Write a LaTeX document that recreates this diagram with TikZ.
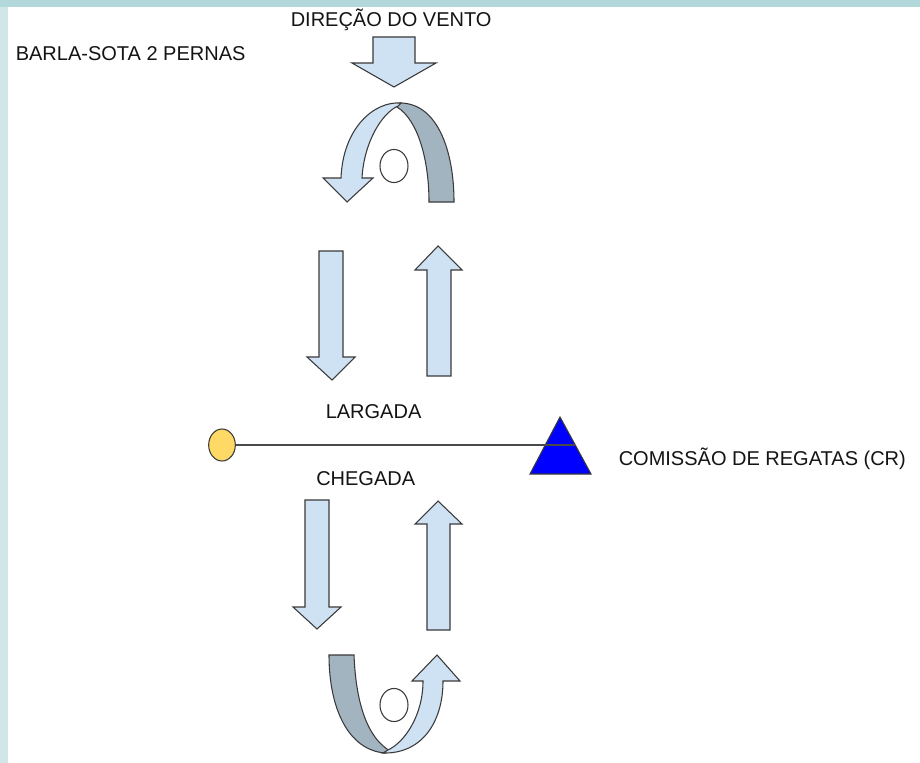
\documentclass[tikz,border=0pt]{standalone}
\usepackage{fontspec}
\setmainfont{Liberation Sans}
\usetikzlibrary{shapes.geometric}
\definecolor{lightband}{HTML}{CFE2F3}
\definecolor{darkband}{HTML}{A3B4C1}
\definecolor{outl}{HTML}{3A3A3A}
\definecolor{topband}{HTML}{B3D8DC}
\definecolor{leftband}{HTML}{D2E6E9}
\definecolor{buoycol}{HTML}{FFD966}
\definecolor{crblue}{HTML}{0000FF}
\definecolor{txt}{HTML}{141414}
\definecolor{linecol}{HTML}{4A4A4A}
\begin{document}
\begin{tikzpicture}[x=0.75pt,y=-0.75pt,
  shapeline/.style={draw=outl, line width=0.8pt, line join=miter},
  lightshape/.style={shapeline, fill=lightband},
  darkshape/.style={shapeline, fill=darkband},
  lbl/.style={font=\fontsize{15}{18}\selectfont, text=txt, inner sep=0pt, anchor=base west}]
\useasboundingbox (0,0) rectangle (920,763);
\fill[white] (0,0) rectangle (920,763);
\fill[leftband] (0,0) rectangle (8,763);
\fill[topband] (0,0) rectangle (920,7);

% labels
\node[lbl] (title) at (15.5,61) {BARLA-SOTA 2 PERNAS};
\node[lbl] (wind) at (290.5,27) {DIREÇÃO DO VENTO};
\node[lbl] (start) at (325.5,418) {LARGADA};
\node[lbl] (finish) at (316,485) {CHEGADA};
\node[lbl] (crlabel) at (618.5,465) {COMISSÃO DE REGATAS (CR)};

% wind arrow
\draw[lightshape] (373,37) -- (415,37) -- (415,63) -- (436,63) -- (394,87) -- (352,63) -- (373,63) -- cycle;

% top U-turn
\draw[darkshape] (400,103) .. controls (437,103) and (454,150) .. (454,202)
  -- (429,202) .. controls (429,160) and (418,120) .. (397,107) -- cycle;
\draw[lightshape] (401,103) .. controls (374,101) and (343,128) .. (341,178)
  -- (323,178) -- (347,202) -- (373,178) -- (362,178)
  .. controls (364,142) and (382,113) .. (398,106) -- cycle;
\draw[shapeline, fill=white] (394,166) ellipse [x radius=10.5pt, y radius=12.4pt];

% upper legs
\draw[lightshape] (319,251) -- (343,251) -- (343,357) -- (355,357) -- (332,380) -- (307,357) -- (319,357) -- cycle;
\draw[lightshape] (427,376) -- (451,376) -- (451,270) -- (462,270) -- (438,246) -- (415,270) -- (427,270) -- cycle;

% start / finish line
\draw[shapeline, fill=crblue] (560,417) -- (591,474) -- (530,474) -- cycle;
\node[draw=outl, line width=0.8pt, ellipse, fill=buoycol, minimum width=20pt, minimum height=24pt, inner sep=0pt] (buoy) at (222,445) {};
\coordinate (crend) at (575,445);
\draw[linecol, line width=1.1pt] (buoy.east) -- (crend);

% lower legs
\draw[lightshape] (305,500) -- (329,500) -- (329,607) -- (341,607) -- (317,629) -- (293,607) -- (305,607) -- cycle;
\draw[lightshape] (427,630) -- (450,630) -- (450,524) -- (462,524) -- (438,501) -- (415,524) -- (427,524) -- cycle;

% bottom U-turn
\draw[darkshape] (329,655) -- (354,655) .. controls (356,705) and (368,738) .. (390,751)
  -- (385,753) .. controls (348,750) and (329,708) .. (329,655) -- cycle;
\draw[lightshape] (383,753) .. controls (422,754) and (443,722) .. (443,681)
  -- (460,681) -- (437,655) -- (412,681) -- (423,681)
  .. controls (423,715) and (405,742) .. (388,750) -- cycle;
\draw[shapeline, fill=white] (394,705) ellipse [x radius=10.5pt, y radius=12.4pt];
\end{tikzpicture}
\end{document}
